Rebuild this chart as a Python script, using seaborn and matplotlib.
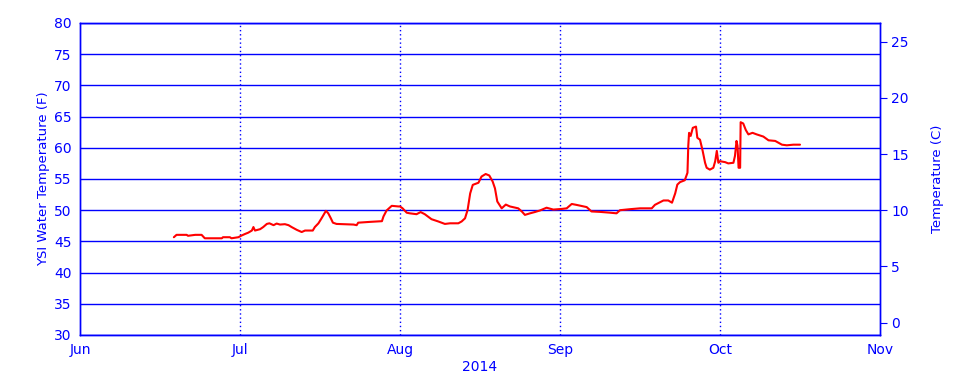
import numpy as np
import pandas as pd
import matplotlib
matplotlib.use("Agg")
import matplotlib.pyplot as plt
import seaborn as sns

# Days since 2014-06-01 and water temperature (F)
days = [17.6, 18.1, 20.0, 20.25, 21.6, 22.8, 23.4, 26.6, 26.8, 28.1, 28.4, 29.7,
        30.3, 31.0, 31.6, 32.3, 32.6, 32.9, 33.9, 34.5, 35.2, 35.7, 36.5, 37.1, 37.75,
        38.7, 39.4, 40.0, 41.0, 41.95, 42.6, 44.1, 44.5, 45.2, 45.8, 46.65, 47.1, 47.6,
        48.0, 48.7, 52.0, 52.6, 52.9, 55.2, 57.5, 57.8, 58.4, 59.4, 60.7,
        61.0, 61.5, 62.3, 62.9, 64.2, 65.0, 65.8, 67.1, 68.4, 69.7, 70.7, 72.3, 72.95,
        73.6, 74.1, 74.6, 75.1, 76.2, 76.8, 77.6, 78.3, 78.95, 79.4, 79.85, 80.7, 81.5,
        82.3, 83.9, 84.6, 85.2, 86.2, 87.1, 88.1, 89.4, 90.7,
        92.3, 93.25, 94.2, 95.1, 97.0, 97.9, 99.5, 101.4, 102.6, 103.25, 105.1, 107.0,
        109.2, 109.8, 111.4, 112.3, 113.0, 113.6, 114.0, 114.5, 115.4, 115.9, 116.05,
        116.2, 116.5, 116.9, 117.5, 117.75, 118.25, 118.75, 119.2, 119.5, 120.1, 120.75,
        121.1, 121.4, 121.7,
        122.0, 123.0, 123.6, 124.6, 124.9, 125.2, 125.4, 125.6, 125.9, 126.0, 126.5,
        127.0, 127.5, 128.3, 129.1, 130.4, 131.4, 132.7, 134.0, 134.95, 136.2, 137.5]
temp_f = [45.67, 46.05, 46.05, 45.9, 46.05, 46.05, 45.5, 45.5, 45.67, 45.67, 45.5, 45.67,
          45.94, 46.2, 46.4, 46.74, 47.3, 46.74, 46.96, 47.3, 47.8, 47.9, 47.6, 47.86, 47.7,
          47.76, 47.6, 47.3, 46.85, 46.5, 46.74, 46.74, 47.3, 47.9, 48.7, 49.9, 49.5, 48.7,
          48.0, 47.8, 47.7, 47.6, 48.0, 48.13, 48.24, 49.0, 49.95, 50.7, 50.6,
          50.6, 50.3, 49.6, 49.5, 49.36, 49.7, 49.36, 48.56, 48.2, 47.8, 47.9, 47.9, 48.2,
          48.7, 50.05, 52.7, 54.06, 54.4, 55.4, 55.8, 55.56, 54.6, 53.5, 51.4, 50.3, 50.9,
          50.6, 50.3, 49.8, 49.25, 49.5, 49.7, 49.95, 50.4, 50.1,
          50.2, 50.3, 51.0, 50.85, 50.5, 49.8, 49.73, 49.6, 49.5, 50.0, 50.16, 50.3,
          50.3, 50.86, 51.56, 51.56, 51.2, 52.7, 54.1, 54.5, 54.8, 56.0, 60.3,
          62.4, 61.9, 63.2, 63.4, 61.6, 61.3, 59.5, 57.6, 56.8, 56.5, 56.8,
          57.85, 59.5, 57.6,
          57.85, 57.7, 57.5, 57.6, 58.7, 61.1, 60.3, 56.8, 56.8, 64.1, 63.9,
          62.85, 62.15, 62.4, 62.15, 61.8, 61.2, 61.1, 60.5, 60.4, 60.5, 60.5]

# month starts (days since Jun 1) and their labels
month_start_days = [0, 30, 61, 92, 122, 153]
month_labels = ["Jun", "Jul", "Aug", "Sep", "Oct", "Nov"]
f_ticks = list(range(30, 81, 5))
c_ticks = list(range(0, 26, 5))

BLUE = "#0000ff"
RED = "#ff0000"

sns.set_style("white")
plt.rcParams["font.family"] = ["DejaVu Sans"]

# month-based axis: each month occupies equal width (as in the original chart)
month_pos = np.interp(days, month_start_days, np.arange(len(month_start_days)))
df = pd.DataFrame({"month_pos": month_pos, "temp": temp_f})

fig = plt.figure(figsize=(9.6, 3.84), dpi=100)
ax = fig.add_axes([80 / 960, 49 / 384, 800 / 960, 312 / 384])

for v in f_ticks:
    ax.axhline(v, color=BLUE, lw=1.0, zorder=1)
for m in range(1, len(month_labels) - 1):
    ax.axvline(m, color=BLUE, lw=1.0, ls=(0, (1, 2)), zorder=1)

sns.lineplot(data=df, x="month_pos", y="temp", ax=ax, color=RED, lw=1.5, zorder=3)

ax.set_xlim(0, len(month_labels) - 1)
ax.set_ylim(30, 80)
ax.set_yticks(f_ticks)
ax.set_xticks(range(len(month_labels)))
ax.set_xticklabels(month_labels)
ax.tick_params(axis="both", colors=BLUE, length=0, labelsize=10, pad=6)
ax.set_ylabel("YSI Water Temperature (F)", color=BLUE, fontsize=9.5, labelpad=3)
ax.set_xlabel("2014", color=BLUE, fontsize=10, labelpad=2)
for s in ax.spines.values():
    s.set_color(BLUE)
    s.set_linewidth(1.0)

ax2 = ax.twinx()
ax2.set_ylim((30 - 32) * 5 / 9, (80 - 32) * 5 / 9)
ax2.set_yticks(c_ticks)
ax2.tick_params(axis="y", colors=BLUE, length=5, labelsize=10, pad=3, direction="out")
ax2.set_ylabel("Temperature (C)", color=BLUE, fontsize=9.5, labelpad=16)
for s in ax2.spines.values():
    s.set_color(BLUE)
    s.set_linewidth(1.0)

fig.savefig("out.png", dpi=100)
